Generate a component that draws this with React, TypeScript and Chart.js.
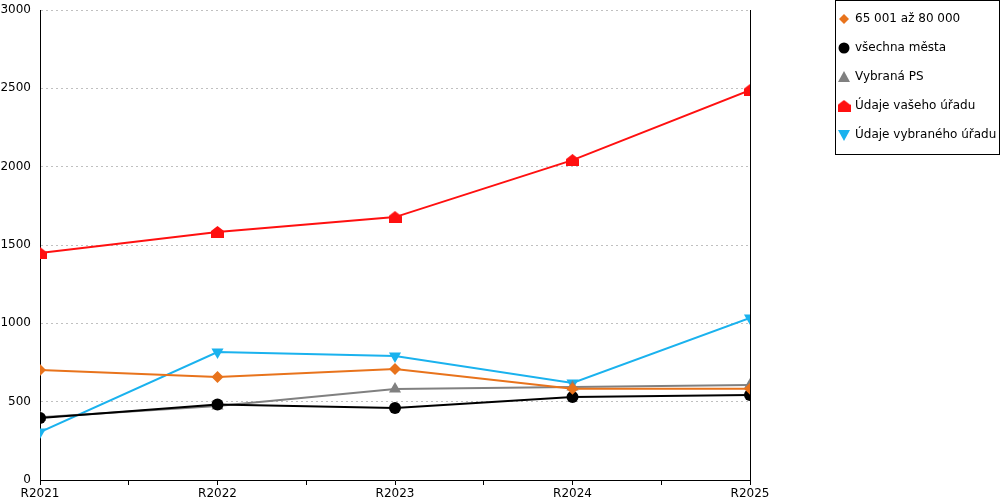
import { Chart, registerables, type Plugin } from "chart.js";
import { useEffect, useRef } from "react";

Chart.register(...registerables);

const years = ["R2021", "R2022", "R2023", "R2024", "R2025"];
const kategorie = [702, 657, 708, 583, 583];
const vsechnaMesta = [396, 482, 460, 530, 543];
const vybranaPS = [400, 472, 581, 594, 606];
const vasUrad = [1449, 1583, 1678, 2042, 2489];
const vybranyUrad = [306, 817, 791, 619, 1034];
const yTicks = [0, 500, 1000, 1500, 2000, 2500, 3000];

const FONT = "'DejaVu Sans', sans-serif";

function houseShape(color: string) {
  const c = document.createElement("canvas");
  c.width = 13;
  c.height = 12;
  const g = c.getContext("2d")!;
  g.fillStyle = color;
  g.beginPath();
  g.moveTo(6.5, 0);
  g.lineTo(13, 5);
  g.lineTo(13, 12);
  g.lineTo(0, 12);
  g.lineTo(0, 5);
  g.closePath();
  g.fill();
  return c;
}

// draws the boxed legend on the right, like the original report
const boxLegend: Plugin<"line"> = {
  id: "boxLegend",
  afterDraw(chart) {
    const ctx = chart.ctx;
    ctx.save();
    ctx.strokeStyle = "#000";
    ctx.lineWidth = 1;
    ctx.strokeRect(835.5, 0.5, 164, 154);
    ctx.font = `12px ${FONT}`;
    ctx.textBaseline = "middle";
    chart.data.datasets.forEach((ds: any, i) => {
      const y = 19 + i * 29;
      const x = 844;
      ctx.fillStyle = ds.borderColor;
      const style = ds.pointStyle;
      ctx.beginPath();
      if (style === "rectRot") {
        ctx.moveTo(x, y - 5);
        ctx.lineTo(x + 5, y);
        ctx.lineTo(x, y + 5);
        ctx.lineTo(x - 5, y);
      } else if (style === "circle") {
        ctx.arc(x, y, 5.5, 0, Math.PI * 2);
      } else if (style === "triangle" && ds.rotation) {
        ctx.moveTo(x - 6, y - 5);
        ctx.lineTo(x + 6, y - 5);
        ctx.lineTo(x, y + 6);
      } else if (style === "triangle") {
        ctx.moveTo(x, y - 6);
        ctx.lineTo(x + 6, y + 5);
        ctx.lineTo(x - 6, y + 5);
      }
      ctx.closePath();
      if (typeof style !== "string") {
        ctx.drawImage(style, x - 6.5, y - 6);
      } else {
        ctx.fill();
      }
      ctx.fillStyle = "#000";
      ctx.fillText(ds.label, 855, y);
    });
    ctx.restore();
  },
};

export default function App() {
  const canvasRef = useRef<HTMLCanvasElement>(null);

  useEffect(() => {
    const canvas = canvasRef.current;
    if (!canvas) return;
    const pts = (arr: number[]) => arr.map((v, i) => ({ x: i, y: v }));
    const chart = new Chart(canvas, {
      type: "line",
      data: {
        datasets: [
          { label: "65 001 až 80 000", data: pts(kategorie), borderColor: "#E8731C", backgroundColor: "#E8731C", pointStyle: "rectRot", pointRadius: 6 },
          { label: "všechna města", data: pts(vsechnaMesta), borderColor: "#000000", backgroundColor: "#000000", pointStyle: "circle", pointRadius: 6 },
          { label: "Vybraná PS", data: pts(vybranaPS), borderColor: "#808080", backgroundColor: "#808080", pointStyle: "triangle", pointRadius: 7 },
          { label: "Údaje vašeho úřadu", data: pts(vasUrad), borderColor: "#FF1010", backgroundColor: "#FF1010", pointStyle: houseShape("#FF1010"), pointRadius: 6 },
          { label: "Údaje vybraného úřadu", data: pts(vybranyUrad), borderColor: "#1AB2EE", backgroundColor: "#1AB2EE", pointStyle: "triangle", rotation: 180, pointRadius: 7 },
        ] as any,
      },
      options: {
        animation: false,
        responsive: false,
        layout: { padding: { top: 10, right: 250, left: 0, bottom: 0 } },
        elements: { line: { borderWidth: 2, tension: 0 }, point: { borderWidth: 0 } },
        plugins: { legend: { display: false }, tooltip: { enabled: false } },
        scales: {
          x: {
            type: "linear",
            min: 0,
            max: 4,
            afterBuildTicks: (s: any) => {
              s.ticks = [0, 0.5, 1, 1.5, 2, 2.5, 3, 3.5, 4].map((v) => ({ value: v }));
            },
            afterFit: (s: any) => {
              s.height = 20;
            },
            border: { color: "#000", width: 1 },
            grid: {
              color: (c: any) => (c.tick && c.tick.value === 4 ? "#000" : "transparent"),
              tickColor: "#000",
              tickLength: 5,
            },
            ticks: {
              autoSkip: false,
              maxRotation: 0,
              padding: 2,
              color: "#000",
              font: { family: FONT, size: 12 },
              callback: (v: any) => (Number.isInteger(v) ? years[v] : ""),
            },
          },
          y: {
            min: 0,
            max: 3000,
            afterBuildTicks: (s: any) => {
              s.ticks = yTicks.map((v) => ({ value: v }));
            },
            afterFit: (s: any) => {
              s.width = 40;
              s.paddingTop = 0;
              s.paddingBottom = 0;
            },
            border: { color: "#000", width: 1, dash: [2, 3] },
            grid: {
              color: (c: any) => (c.tick && c.tick.value === 0 ? "transparent" : "#c0c0c0"),
              drawTicks: false,
            },
            ticks: {
              padding: 9,
              color: "#000",
              font: { family: FONT, size: 12 },
              callback: (v: any) => String(v),
            },
          },
        },
      },
      plugins: [boxLegend],
    });
    return () => chart.destroy();
  }, []);

  return (
    <div style={{ position: "absolute", left: 0, top: 0, width: 1000, height: 500, background: "#fff" }}>
      <canvas ref={canvasRef} width={1000} height={500} />
    </div>
  );
}
